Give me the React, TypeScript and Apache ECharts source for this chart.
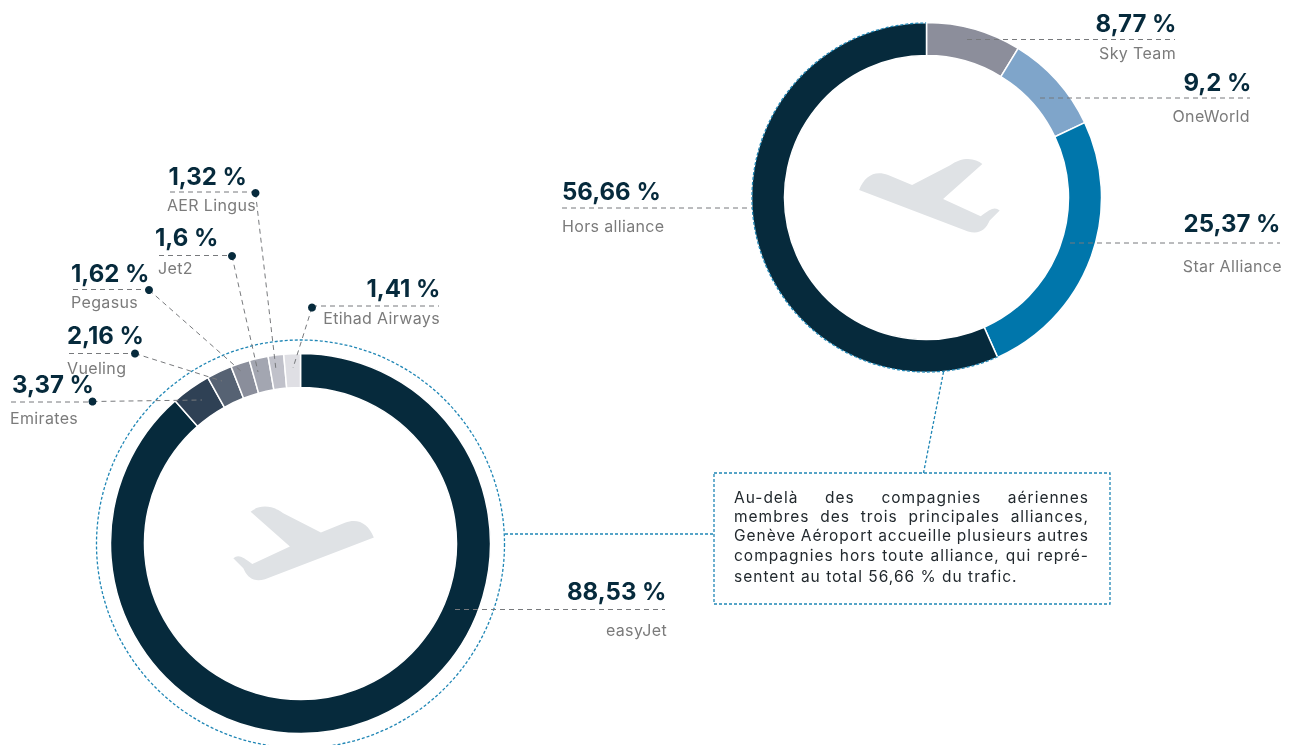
import React, { useEffect, useRef } from "react";
import * as echarts from "echarts";

const airlineNames = ["easyJet", "Emirates", "Vueling", "Pegasus", "Jet2", "AER Lingus", "Etihad Airways"];
const airlineValues = [88.53, 3.37, 2.16, 1.62, 1.6, 1.32, 1.41];
const allianceNames = ["Sky Team", "OneWorld", "Star Alliance", "Hors alliance"];
const allianceValues = [8.77, 9.2, 25.37, 56.66];
const noteLines = [
  "Au-delà des compagnies aériennes",
  "membres des trois principales alliances,",
  "Genève Aéroport accueille plusieurs autres",
  "compagnies hors toute alliance, qui repré-",
  "sentent au total 56,66 % du trafic.",
];

const airlineColors = ["#062a3c", "#2f4155", "#566273", "#8a8e9b", "#a3a6b1", "#c0c1ca", "#dfdfe4"];
const allianceColors = ["#8c8e9b", "#7fa5ca", "#0076ab", "#062a3c"];
const INK = "#062a3c";
const GREY = "#7b7b7b";
const LINE = "#77797c";
const BLUE = "#1f86b5";
const VALUE_FONT = "Inter";
const LABEL_FONT = "Inter";

type Lay = {
  align: "left" | "right";
  vx: number; vy: number; nx: number; ny: number;
  line: [number, number, number];
  dot?: [number, number];
  lead?: [number, number];
};

const airlineLayout: Lay[] = [
  { align: "right", vx: 666.5, vy: 591, nx: 667, ny: 630, line: [455, 665, 609.5] },
  { align: "left", vx: 12, vy: 384, nx: 10, ny: 418, line: [11, 92, 402], dot: [92.5, 401.5], lead: [202, 400] },
  { align: "left", vx: 67, vy: 335, nx: 67, ny: 368, line: [69, 135, 353.5], dot: [135, 353.5], lead: [222, 381] },
  { align: "left", vx: 71, vy: 273, nx: 71, ny: 302, line: [73, 149, 289.5], dot: [149, 290], lead: [242, 372] },
  { align: "left", vx: 155, vy: 237, nx: 158, ny: 268, line: [159, 232, 255.5], dot: [232, 256], lead: [258, 372] },
  { align: "right", vx: 247, vy: 176, nx: 256, ny: 205, line: [170, 255, 192], dot: [255.5, 193], lead: [276, 370] },
  { align: "right", vx: 440.5, vy: 288, nx: 440, ny: 318, line: [312, 439, 306], dot: [312, 307.5], lead: [293, 368] },
];
const allianceLayout: Lay[] = [
  { align: "right", vx: 1176.5, vy: 23, nx: 1176, ny: 53, line: [967, 1175, 39.5] },
  { align: "right", vx: 1251.5, vy: 82, nx: 1250, ny: 116, line: [1040, 1250, 98] },
  { align: "right", vx: 1280.5, vy: 223, nx: 1282, ny: 266, line: [1070, 1280, 243] },
  { align: "left", vx: 562, vy: 191, nx: 562, ny: 226, line: [562, 752, 208] },
];

const PLANE =
  "M92 65 C112 48 150 40 190 70 L303 128 L375 98 C415 84 445 100 462 143 L135 268 C100 278 82 262 70 235 L40 205 C55 192 68 200 97 222 L210 170 Z";
echarts.graphic.registerShape("planeIcon", (echarts.graphic as any).extendPath(PLANE, {}));

const fmt = (v: number) => String(v).replace(".", ",") + " %";

function labelGraphics(names: string[], values: number[], layout: Lay[]): any[] {
  const out: any[] = [];
  names.forEach((name, i) => {
    const l = layout[i];
    out.push({
      type: "line", z: 10,
      shape: { x1: l.line[0], y1: l.line[2], x2: l.line[1], y2: l.line[2] },
      style: { stroke: LINE, lineWidth: 1, lineDash: [5, 4] },
    });
    if (l.dot && l.lead) {
      out.push({
        type: "line", z: 10,
        shape: { x1: l.dot[0], y1: l.dot[1], x2: l.lead[0], y2: l.lead[1] },
        style: { stroke: LINE, lineWidth: 1, lineDash: [5, 4] },
      });
      out.push({ type: "circle", z: 11, shape: { cx: l.dot[0], cy: l.dot[1], r: 4 }, style: { fill: INK } });
    }
    out.push({
      type: "text", z: 12, x: l.vx, y: l.vy,
      style: { text: fmt(values[i]), fill: INK, font: `700 24px ${VALUE_FONT}`, textAlign: l.align, textVerticalAlign: "middle" },
    });
    out.push({
      type: "text", z: 12, x: l.nx, y: l.ny,
      style: { text: name, fill: GREY, font: `400 16px ${LABEL_FONT}`, textAlign: l.align, textVerticalAlign: "middle" },
    });
  });
  return out;
}

const NOTE_LEFT = 734;
const NOTE_WIDTH = 354;
const NOTE_Y = [497, 516, 535, 555, 576];
const NOTE_FONT = `400 15.5px ${LABEL_FONT}`;
const NOTE_TRACKING = 1;
const NAME_TRACKING = 0.35;

export default function App() {
  const ref = useRef<HTMLDivElement>(null);
  useEffect(() => {
    if (!ref.current) return;
    document.body.style.margin = "0";
    const chart = echarts.init(ref.current, undefined, { renderer: "svg" });
    const blue = { stroke: BLUE, lineWidth: 1.3, lineDash: [3, 2], fill: "none" };
    const pieBase = {
      type: "pie", startAngle: 90, clockwise: true, silent: true,
      label: { show: false }, labelLine: { show: false },
      emphasis: { disabled: true },
    };
    chart.setOption({
      animation: false,
      series: [
        {
          ...pieBase,
          center: [300.5, 543.5], radius: [156, 190],
          itemStyle: { borderColor: "#fff", borderWidth: 1.5 },
          data: airlineNames.map((name, i) => ({ name, value: airlineValues[i], itemStyle: { color: airlineColors[i] } })),
        },
        {
          ...pieBase,
          center: [926.5, 197.5], radius: [142, 175],
          itemStyle: { borderColor: "#fff", borderWidth: 1.5 },
          data: allianceNames.map((name, i) => ({ name, value: allianceValues[i], itemStyle: { color: allianceColors[i] } })),
        },
      ],
      graphic: {
        elements: [
          { type: "planeIcon", x: 220, y: 490, scaleX: 1 / 3, scaleY: 1 / 3, z: 5, style: { fill: "#dfe2e5" } },
          { type: "planeIcon", x: 1013, y: 142.3, scaleX: -1 / 3, scaleY: 1 / 3, z: 5, style: { fill: "#dfe2e5" } },
          { type: "circle", z: 6, shape: { cx: 300.5, cy: 544, r: 204 }, style: blue },
          {
            type: "arc", z: 6,
            shape: { cx: 926.5, cy: 197.5, r: 174.5, startAngle: 1.15, endAngle: 4.71, clockwise: true },
            style: blue,
          },
          { type: "line", z: 6, shape: { x1: 505, y1: 534, x2: 714, y2: 534 }, style: blue },
          { type: "line", z: 6, shape: { x1: 943.5, y1: 372, x2: 923.5, y2: 473 }, style: blue },
          { type: "rect", z: 6, shape: { x: 714, y: 473, width: 396, height: 131 }, style: blue },
          ...labelGraphics(airlineNames, airlineValues, airlineLayout),
          ...labelGraphics(allianceNames, allianceValues, allianceLayout),
          ...noteLines.map((text, i) => ({
            type: "text", z: 12, x: NOTE_LEFT, y: NOTE_Y[i],
            style: { text, fill: "#22292e", font: NOTE_FONT, textAlign: "left", textVerticalAlign: "middle" },
          })),
        ],
      },
    });
    // ECharts has no tracking or justification for text: set them on the drawn SVG texts
    const ctx = document.createElement("canvas").getContext("2d")!;
    ctx.font = NOTE_FONT;
    const names = [...airlineNames, ...allianceNames];
    ref.current.querySelectorAll("text").forEach((el) => {
      const t = el.textContent || "";
      const s = (el as any).style;
      if (names.includes(t)) s.letterSpacing = NAME_TRACKING + "px";
      const idx = noteLines.indexOf(t);
      if (idx < 0) return;
      s.letterSpacing = NOTE_TRACKING + "px";
      if (idx > 3) return;
      const gaps = t.split(" ").length - 1;
      const natural = ctx.measureText(t).width + NOTE_TRACKING * (t.length - 1);
      s.wordSpacing = (NOTE_WIDTH - natural) / gaps + "px";
    });
    return () => chart.dispose();
  }, []);
  return <div ref={ref} style={{ position: "fixed", left: 0, top: 0, width: 1297, height: 745 }} />;
}
